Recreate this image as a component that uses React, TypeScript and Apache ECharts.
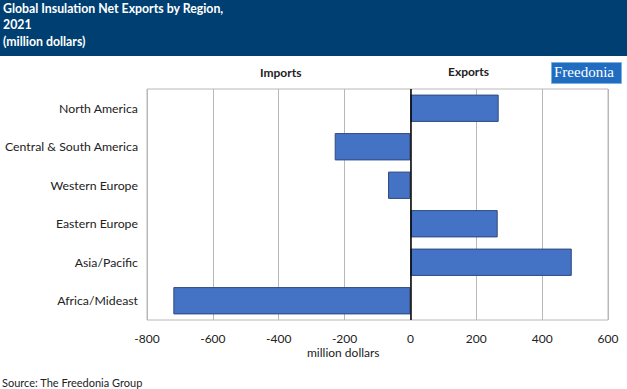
import React, { useEffect, useRef } from "react";
import * as echarts from "echarts";

const categories = [
  "North America",
  "Central & South America",
  "Western Europe",
  "Eastern Europe",
  "Asia/Pacific",
  "Africa/Mideast",
];
const netExports = [268, -230, -68, 265, 490, -720];
const titleLines = ["Global Insulation Net Exports by Region,", "2021", "(million dollars)"];
const axisTitle = "million dollars";
const sourceText = "Source: The Freedonia Group";

const FONT = "Lato, 'Open Sans', sans-serif";

export default function App() {
  const ref = useRef<HTMLDivElement>(null);
  useEffect(() => {
    if (!ref.current) return;
    const chart = echarts.init(ref.current, null, { renderer: "svg" });
    chart.setOption({
      animation: false,
      textStyle: { fontFamily: FONT },
      grid: {
        left: 147,
        right: 19,
        top: 89,
        height: 231,
        show: true,
        borderColor: "#b8b8b8",
        borderWidth: 1,
        backgroundColor: "#fff",
      },
      xAxis: {
        type: "value",
        min: -800,
        max: 600,
        interval: 200,
        axisLine: { show: false },
        axisTick: { show: false },
        splitLine: { lineStyle: { color: "#b8b8b8", width: 1 } },
        axisLabel: { color: "#222", fontSize: 12, margin: 12, fontFamily: FONT },
      },
      yAxis: {
        type: "category",
        data: categories,
        inverse: true,
        axisLine: { show: false },
        axisTick: { show: false },
        axisLabel: { color: "#222", fontSize: 12.3, margin: 9, fontFamily: FONT },
      },
      series: [
        {
          type: "bar",
          data: netExports,
          barCategoryGap: "29%",
          itemStyle: { color: "#4472c4", borderColor: "#2f4a7f", borderWidth: 1 },
          markLine: {
            silent: true,
            symbol: "none",
            label: { show: false },
            lineStyle: { color: "#000", type: "solid", width: 1.5 },
            data: [{ xAxis: 0 }],
          },
        },
      ],
      graphic: [
        { type: "rect", left: 0, top: 0, shape: { width: 627, height: 56 }, style: { fill: "#003f72" } },
        ...titleLines.map((t, i) => ({
          type: "text",
          left: 3,
          top: 2 + i * 16.7,
          style: { text: t, fill: "#fff", font: `bold 12.3px ${FONT}` },
        })),
        { type: "text", left: 282 - 22, top: 66, style: { text: "Imports", fill: "#222", font: `bold 12px ${FONT}` } },
        { type: "text", left: 470 - 22, top: 65, style: { text: "Exports", fill: "#222", font: `bold 12px ${FONT}` } },
        {
          type: "rect",
          left: 551,
          top: 62,
          shape: { width: 70, height: 21 },
          style: { fill: "#1f6cc0", stroke: "#7fb0e0", lineWidth: 1 },
        },
        {
          type: "text",
          left: 554,
          top: 64,
          style: { text: "Freedonia", fill: "#fff", font: "15px 'Liberation Serif', serif" },
        },
        { type: "text", left: 307, top: 346, style: { text: axisTitle, fill: "#222", font: `12px ${FONT}` } },
        { type: "text", left: 2, top: 377, style: { text: sourceText, fill: "#222", font: `11px ${FONT}` } },
      ],
    });
    return () => chart.dispose();
  }, []);
  return <div ref={ref} style={{ width: 627, height: 389, position: "absolute", left: 0, top: 0 }} />;
}
